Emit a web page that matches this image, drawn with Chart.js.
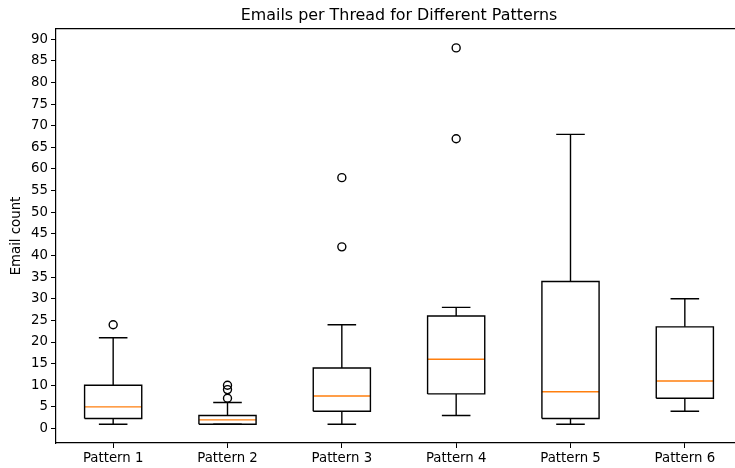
<!DOCTYPE html>
<html lang="en">
<head>
    <meta charset="UTF-8">
    <title>Emails per Thread for Different Patterns</title>
    <script src="https://cdn.jsdelivr.net/npm/chart.js"></script>
    <style>
        html, body {
            margin: 0;
            padding: 0;
            background: #fff;
            overflow: hidden;
        }
        #wrap {
            width: 735px;
            height: 468px;
            overflow: hidden;
        }
    </style>
</head>
<body>
    <div id="wrap">
        <canvas id="boxChart" width="750" height="468"></canvas>
    </div>

    <script>
        // box plot summary per pattern
        const categories = ['Pattern 1', 'Pattern 2', 'Pattern 3', 'Pattern 4', 'Pattern 5', 'Pattern 6'];
        const whiskerLow = [1, 1, 1, 3, 1, 4];
        const q1 = [2.3, 1, 4, 8, 2.3, 7];
        const medians = [5, 2, 7.5, 16, 8.5, 11];
        const q3 = [10, 3, 14, 26, 34, 23.5];
        const whiskerHigh = [21, 6, 24, 28, 68, 30];
        const outliers = [[24], [7, 9, 10], [42, 58], [67, 88], [], []];
        const yTicks = [0, 5, 10, 15, 20, 25, 30, 35, 40, 45, 50, 55, 60, 65, 70, 75, 80, 85, 90];

        const boxHalf = 0.25;   // box width 0.5
        const capHalf = 0.125;  // caps are half the box
        const GAP = { x: null, y: null };

        const boxPts = [], whiskerPts = [], medianPts = [], flierPts = [];
        categories.forEach((c, i) => {
            const x = i + 1;
            boxPts.push({x: x - boxHalf, y: q1[i]}, {x: x + boxHalf, y: q1[i]},
                        {x: x + boxHalf, y: q3[i]}, {x: x - boxHalf, y: q3[i]},
                        {x: x - boxHalf, y: q1[i]}, GAP);
            whiskerPts.push({x: x, y: q1[i]}, {x: x, y: whiskerLow[i]}, GAP,
                            {x: x - capHalf, y: whiskerLow[i]}, {x: x + capHalf, y: whiskerLow[i]}, GAP,
                            {x: x, y: q3[i]}, {x: x, y: whiskerHigh[i]}, GAP,
                            {x: x - capHalf, y: whiskerHigh[i]}, {x: x + capHalf, y: whiskerHigh[i]}, GAP);
            medianPts.push({x: x - boxHalf, y: medians[i]}, {x: x + boxHalf, y: medians[i]}, GAP);
            outliers[i].forEach(v => flierPts.push({x: x, y: v}));
        });

        const lineSet = (pts, color) => ({
            type: 'line',
            data: pts,
            borderColor: color,
            borderWidth: 1.4,
            pointRadius: 0,
            fill: false,
            spanGaps: false,
            tension: 0
        });

        const tickFont = { family: 'DejaVu Sans', size: 13.3 };

        new Chart(document.getElementById('boxChart'), {
            type: 'line',
            data: {
                datasets: [
                    lineSet(boxPts, '#000'),
                    lineSet(whiskerPts, '#000'),
                    lineSet(medianPts, '#ff7f0e'),
                    {
                        type: 'scatter',
                        data: flierPts,
                        pointStyle: 'circle',
                        pointRadius: 4,
                        pointBorderWidth: 1.4,
                        pointBorderColor: '#000',
                        pointBackgroundColor: 'rgba(0,0,0,0)',
                        showLine: false
                    }
                ]
            },
            options: {
                responsive: false,
                animation: false,
                devicePixelRatio: 1,
                layout: { padding: { left: 0, right: 8, top: 0, bottom: 0 } },
                plugins: {
                    legend: { display: false },
                    tooltip: { enabled: false },
                    title: {
                        display: true,
                        text: 'Emails per Thread for Different Patterns',
                        color: '#000',
                        fullSize: false,
                        font: { family: 'DejaVu Sans', size: 15.9, weight: 'normal' },
                        padding: { top: 6, bottom: 4 }
                    }
                },
                scales: {
                    x: {
                        type: 'linear',
                        min: 0.5,
                        max: 6.5,
                        afterBuildTicks: s => { s.ticks = categories.map((c, i) => ({ value: i + 1 })); },
                        afterFit: s => { s.height = 25; },
                        ticks: {
                            color: '#000',
                            font: tickFont,
                            padding: 3,
                            maxRotation: 0,
                            autoSkip: false,
                            callback: v => categories[v - 1]
                        },
                        grid: { display: true, drawOnChartArea: false, drawTicks: true, tickLength: 5, color: '#000', lineWidth: 1 },
                        border: { display: true, color: '#000', width: 1.2 }
                    },
                    xTop: {
                        type: 'linear',
                        axis: 'x',
                        position: 'top',
                        min: 0.5,
                        max: 6.5,
                        afterFit: s => { s.height = 0; },
                        ticks: { display: false },
                        grid: { display: false },
                        border: { display: true, color: '#000', width: 1.2 }
                    },
                    y: {
                        type: 'linear',
                        min: -3.35,
                        max: 92.35,
                        afterBuildTicks: s => { s.ticks = yTicks.map(v => ({ value: v })); },
                        afterFit: s => { s.width = 56; },
                        ticks: { color: '#000', font: tickFont, padding: 3 },
                        grid: { display: true, drawOnChartArea: false, drawTicks: true, tickLength: 5, color: '#000', lineWidth: 1 },
                        border: { display: true, color: '#000', width: 1.2 },
                        title: {
                            display: true,
                            text: 'Email count',
                            color: '#000',
                            font: tickFont,
                            padding: { top: 9, bottom: 0 }
                        }
                    }
                }
            }
        });
    </script>
</body>
</html>
